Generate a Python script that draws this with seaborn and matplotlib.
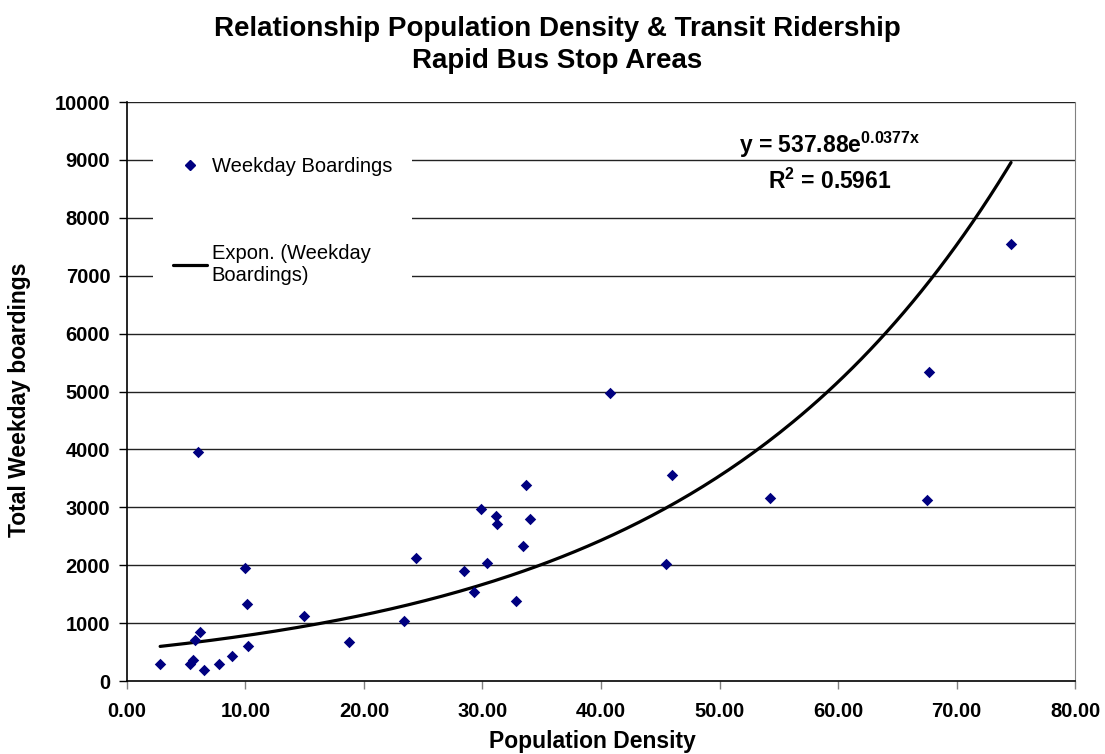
import numpy as np
import pandas as pd
import matplotlib
matplotlib.use("Agg")
import matplotlib.pyplot as plt
import seaborn as sns
from matplotlib.lines import Line2D
from matplotlib.ticker import FormatStrFormatter, MultipleLocator

# data
density = [2.8, 5.3, 5.6, 5.7, 6.2, 6.0, 6.5, 7.8, 8.9, 10.0, 10.1, 10.2,
           14.9, 18.7, 23.4, 24.4, 28.4, 29.3, 29.9, 30.4, 31.1, 31.2,
           32.8, 33.4, 33.7, 34.0, 40.8, 45.5, 46.0, 54.3, 67.5, 67.7, 74.6]
boardings = [290, 290, 355, 700, 850, 3950, 195, 300, 425, 1950, 1325, 600,
             1130, 670, 1040, 2130, 1900, 1530, 2965, 2030, 2850, 2710,
             1375, 2340, 3390, 2790, 4980, 2025, 3565, 3165, 3120, 5340, 7550]

# Excel exponential trendline
fit_a = 537.88
fit_b = 0.0377
r2 = 0.5961

df = pd.DataFrame({"Population Density": density, "Weekday Boardings": boardings})
trend_x = np.linspace(min(density), max(density), 200)
trend = pd.DataFrame({"x": trend_x, "y": fit_a * np.exp(fit_b * trend_x)})

sns.set_style("white")
plt.rcParams["font.family"] = ["Liberation Sans", "DejaVu Sans"]
plt.rcParams["mathtext.fontset"] = "custom"
plt.rcParams["mathtext.rm"] = "Liberation Sans:bold"
plt.rcParams["mathtext.bf"] = "Liberation Sans:bold"
for key in ["text.color", "axes.labelcolor", "xtick.color", "ytick.color"]:
    plt.rcParams[key] = "black"

fig = plt.figure(figsize=(11.05, 7.54), dpi=100)
ax = fig.add_axes([0.1149, 0.0968, 0.858, 0.7679])

for yv in range(1000, 10001, 1000):
    ax.axhline(yv, color="#222222", lw=1.0, zorder=1)

sns.lineplot(x="x", y="y", data=trend, color="black", lw=2.3, ax=ax, zorder=3)
sns.scatterplot(x="Population Density", y="Weekday Boardings", data=df,
                marker="D", color="#000080", s=34, linewidth=0, ax=ax, zorder=4)

ax.set_xlim(0, 80)
ax.set_ylim(0, 10000)
ax.xaxis.set_major_locator(MultipleLocator(10))
ax.yaxis.set_major_locator(MultipleLocator(1000))
ax.xaxis.set_major_formatter(FormatStrFormatter("%.2f"))
ax.tick_params(axis="both", which="major", direction="out", length=6,
               labelsize=14.5, width=1, bottom=True, left=True)
ax.tick_params(axis="x", color="#808080", pad=9)
ax.tick_params(axis="y", pad=6)
for lab in ax.get_xticklabels() + ax.get_yticklabels():
    lab.set_fontweight("bold")

for side in ["left", "bottom"]:
    ax.spines[side].set_color("black")
    ax.spines[side].set_linewidth(1.2)
ax.spines["right"].set_color("#808080")
ax.spines["top"].set_visible(False)

ax.set_xlabel("Population Density", fontsize=16.5, fontweight="bold")
ax.set_ylabel("Total Weekday boardings", fontsize=16.5, fontweight="bold")
ax.xaxis.set_label_coords(0.4905, -0.085)
ax.yaxis.set_label_coords(-0.101, 0.485)

fig.text(0.5045, 0.979, "Relationship Population Density & Transit Ridership\nRapid Bus Stop Areas",
         ha="center", va="top", fontsize=20, fontweight="bold", linespacing=1.3)

handles = [
    Line2D([], [], marker="D", color="#000080", linestyle="none", markersize=5.5),
    Line2D([], [], color="black", lw=2.3),
]
leg = ax.legend(handles, ["Weekday Boardings", "Expon. (Weekday\nBoardings)"],
                loc="upper left", bbox_to_anchor=(0.017, 0.9577), fontsize=14.5,
                frameon=True, facecolor="white", edgecolor="none", framealpha=1,
                labelspacing=3.4, handlelength=1.65, handletextpad=0.25,
                borderpad=1.0, fancybox=False)
leg.set_zorder(5)

ax.text(0.7416, 0.9257, r"y = 537.88e$^{\mathbf{0.0377x}}$", transform=ax.transAxes,
        ha="center", va="center", fontsize=16.5, fontweight="bold", zorder=6)
ax.text(0.7416, 0.8636, r"R$^{\mathbf{2}}$ = " + f"{r2:.4f}", transform=ax.transAxes,
        ha="center", va="center", fontsize=16.5, fontweight="bold", zorder=6)

fig.savefig("out.png", dpi=100)
